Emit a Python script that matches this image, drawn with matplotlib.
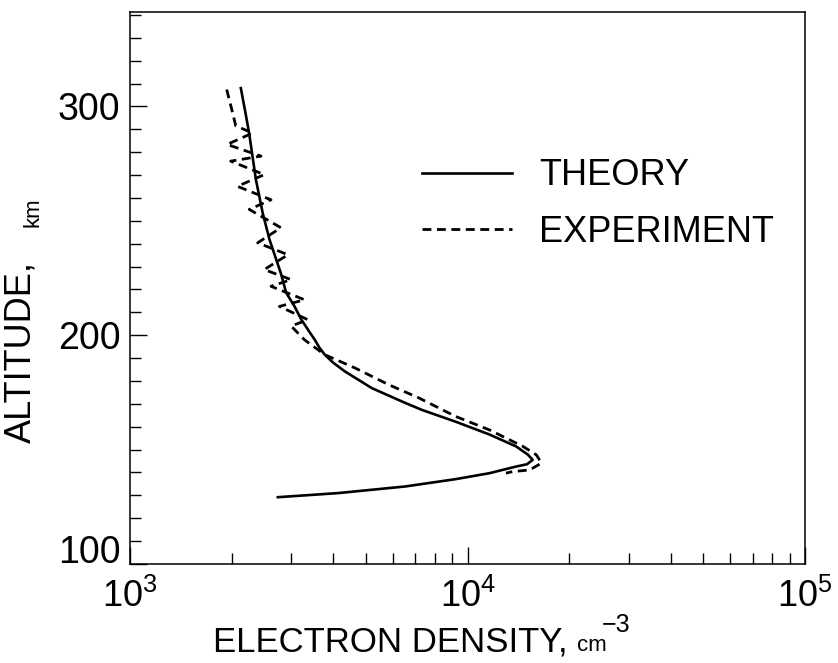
import numpy as np
import matplotlib
matplotlib.use('Agg')
import matplotlib.pyplot as plt
from matplotlib.ticker import LogLocator, MultipleLocator, LogFormatterSciNotation, NullFormatter, FuncFormatter

plt.rcParams['font.family'] = ['Liberation Sans', 'DejaVu Sans']
plt.rcParams['mathtext.fontset'] = 'custom'
plt.rcParams['mathtext.rm'] = 'Liberation Sans'
plt.rcParams['mathtext.default'] = 'regular'

# theory curve (electron density cm^-3, altitude km)
theory_alt = [308, 297, 288, 268, 253.5, 242, 227, 218.6, 212.6, 206.9, 201.5, 198.1, 194.6,
              191.5, 188.0, 184.2, 176.9, 170.4, 167.3, 162.2, 156.6, 151.4, 147.8, 145.5,
              143.6, 142.6, 139.7, 137.1, 133.9, 131.0, 129.2]
theory_dens = [2130, 2200, 2256, 2361, 2472, 2588, 2800, 2902, 3073, 3217, 3400, 3525, 3640,
               3776, 4000, 4331, 5204, 6543, 7345, 9225, 11620, 13930, 15100, 15600,
               15000, 13930, 11620, 9225, 6543, 4140, 2742]

# experiment (dashed, oscillating above 200 km)
exp_alt = [307.4, 299, 291.5, 288.4, 283.4, 278.3, 276.1, 270.2, 265.1, 259.2, 255.0,
           247.0, 240.4, 235.2, 228.7, 224.3, 221.4, 215.5, 212.6, 206.8, 204.0,
           198.0, 191.5, 185.7, 178.4, 172.6, 164.5, 158.6, 151.4, 147.7,
           144.1, 141.1, 140.4, 139.7]
exp_dens = [1934, 2000, 2058, 2308, 1940, 2444, 1988, 2500, 2080, 2617, 2256,
            2800, 2389, 2937, 2500, 3003, 2617, 3289, 2771, 3364, 3003,
            3289, 3776, 4640, 5838, 7175, 9225, 11620, 14600, 16000,
            16560, 15280, 13600, 13000]

fig = plt.figure(figsize=(8.38, 6.63), dpi=100)
ax = fig.add_axes([130/838, 99/663, 675/838, 552/663])

ax.plot(theory_dens, theory_alt, color='black', lw=1.9, label='THEORY')
ax.plot(exp_dens, exp_alt, color='black', lw=2.0, dashes=(3.2, 2), label='EXPERIMENT')

ax.set_xscale('log')
ax.set_xlim(1e3, 1e5)
ax.set_ylim(100, 341.3)

ax.xaxis.set_major_locator(LogLocator(base=10))
ax.xaxis.set_minor_locator(LogLocator(base=10, subs=np.arange(2, 10)))
ax.xaxis.set_major_formatter(LogFormatterSciNotation())
ax.xaxis.set_minor_formatter(NullFormatter())
ax.yaxis.set_major_locator(MultipleLocator(100))
ax.yaxis.set_minor_locator(MultipleLocator(10))
# 100 is drawn a little higher, as in the original
ax.yaxis.set_major_formatter(FuncFormatter(lambda v, p: '' if v < 150 else '%d' % v))
ax.annotate('100', xy=(0, 100), xycoords=('axes fraction', 'data'), xytext=(-7, 8),
            textcoords='offset points', ha='right', va='center', fontsize=27)

ax.tick_params(which='both', direction='in', top=False, right=False, width=1.0, color='black')
ax.tick_params(which='major', length=12)
ax.tick_params(axis='y', which='major', labelsize=27, pad=7)
ax.tick_params(axis='x', which='major', labelsize=26, pad=11)
ax.tick_params(which='minor', length=8)
for s in ax.spines.values():
    s.set_linewidth(1.1)

leg = ax.legend(loc='upper left', bbox_to_anchor=(0.432, 0.735), frameon=False,
                fontsize=26, handlelength=2.5, handletextpad=0.75, labelspacing=0.6,
                borderpad=0, borderaxespad=0)

fig.text(213/838, 1 - 651/663, 'ELECTRON DENSITY,', fontsize=25, ha='left', va='baseline')
fig.text(577/838, 1 - 651/663, 'cm', fontsize=16, ha='left', va='baseline')
fig.text(602/838, 1 - 632/663, '\u22123', fontsize=18, ha='left', va='baseline')

fig.text(38/838, 1 - 443/663, 'ALTITUDE,', fontsize=26, rotation=90, ha='right', va='bottom')
fig.text(44/838, 1 - 227/663, 'km', fontsize=16, rotation=90, ha='right', va='bottom')

fig.savefig('out.png', dpi=100)
